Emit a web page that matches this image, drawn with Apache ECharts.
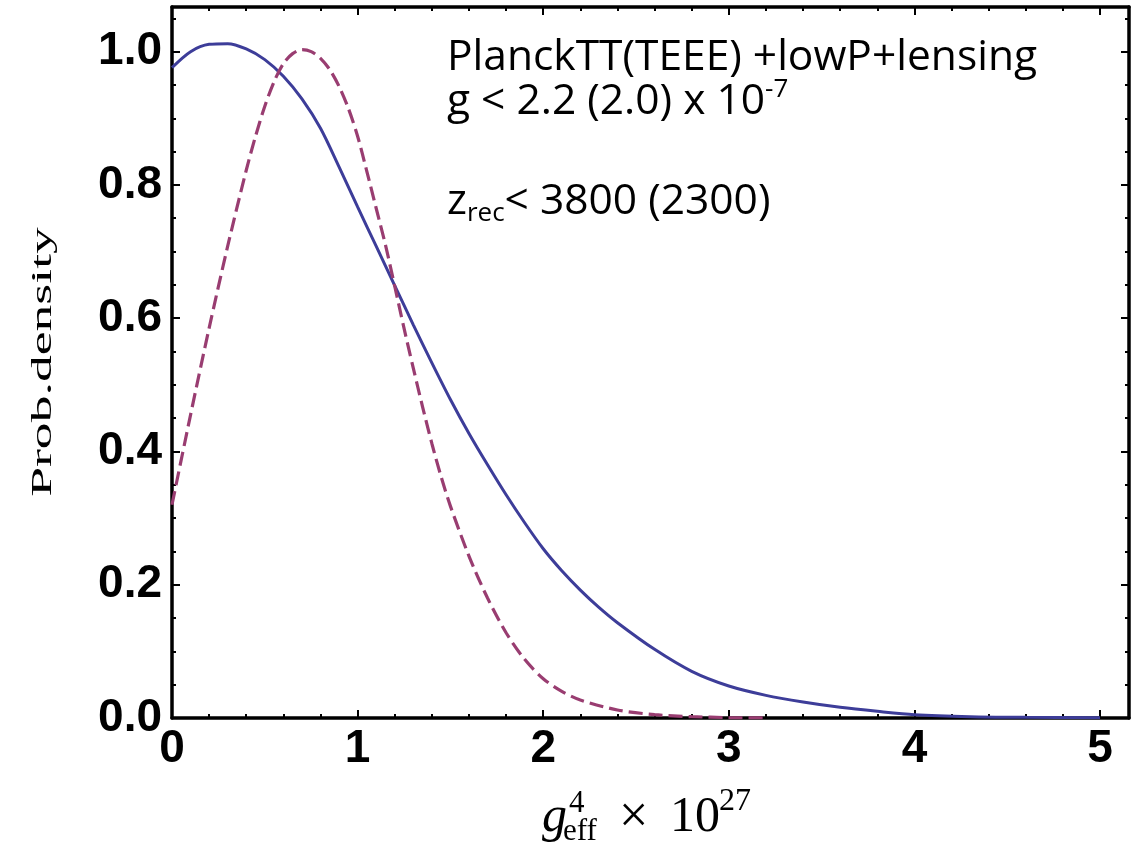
<!DOCTYPE html>
<html>
<head>
<meta charset="utf-8">
<script src="https://cdn.jsdelivr.net/npm/echarts@6/dist/echarts.min.js"></script>
<style>html,body{margin:0;padding:0;background:#fff;}#c{width:1141px;height:850px;}</style>
</head>
<body>
<div id="c"></div>
<script>
// ---- data ----
const xTickLabels = ['0', '1', '2', '3', '4', '5'];
const yTickLabels = ['0.0', '0.2', '0.4', '0.6', '0.8', '1.0'];

const xSolid = [0, 0.1, 0.2, 0.3, 0.4, 0.5, 0.6, 0.7, 0.8, 0.9, 1.0, 1.1, 1.2, 1.3, 1.4, 1.5, 1.6, 1.7, 1.8, 1.9, 2.0, 2.1, 2.2, 2.3, 2.4, 2.6, 2.8, 3.0, 3.2, 3.4, 3.6, 3.8, 4.0, 4.3, 4.6, 5.0];
const ySolid = [0.976, 1.0, 1.011, 1.012, 1.004, 0.988, 0.963, 0.929, 0.885, 0.827, 0.767, 0.708, 0.649, 0.590, 0.533, 0.478, 0.427, 0.380, 0.335, 0.293, 0.254, 0.221, 0.192, 0.166, 0.143, 0.103, 0.070, 0.048, 0.034, 0.024, 0.016, 0.010, 0.005, 0.002, 0.001, 0.0004];

const xDashed = [0, 0.1, 0.2, 0.3, 0.4, 0.45, 0.5, 0.55, 0.6, 0.65, 0.7, 0.75, 0.8, 0.85, 0.9, 0.95, 1.0, 1.05, 1.1, 1.15, 1.2, 1.25, 1.3, 1.35, 1.4, 1.45, 1.5, 1.6, 1.7, 1.8, 1.9, 2.0, 2.1, 2.2, 2.4, 2.6, 2.8, 3.0, 3.2];
const yDashed = [0.32, 0.455, 0.585, 0.708, 0.822, 0.873, 0.918, 0.955, 0.982, 0.997, 1.003, 1.0, 0.99, 0.973, 0.948, 0.915, 0.873, 0.82, 0.765, 0.71, 0.648, 0.585, 0.525, 0.467, 0.412, 0.362, 0.318, 0.243, 0.18, 0.128, 0.088, 0.059, 0.04, 0.027, 0.012, 0.005, 0.002, 0.0006, 0.0];

// ---- build ----
const solidData = xSolid.map((x, i) => [x, ySolid[i]]);
const dashedData = xDashed.map((x, i) => [x, yDashed[i]]);

const X_MAX = 5.156, Y_MAX = 1.067;
const tickFont = {fontFamily: 'Liberation Sans', fontWeight: 'bold', fontSize: 46, color: '#000'};
const lineStyle = {color: '#000', width: 3.5};

function isMultiple(v, step) { const r = v / step; return Math.abs(r - Math.round(r)) < 1e-6; }

function xAx(pos, interval, tickLen, showLine, showLabel) {
  return {
    type: 'value', position: pos, min: 0, max: X_MAX, interval: interval,
    axisLine: {show: showLine, onZero: false, lineStyle: lineStyle},
    axisTick: {show: true, inside: true, length: tickLen, lineStyle: {color: '#000', width: 2}},
    axisLabel: showLabel ? Object.assign({margin: 8, formatter: v => isMultiple(v, 1) && v <= 5 ? xTickLabels[Math.round(v)] : ''}, tickFont) : {show: false},
    splitLine: {show: false}
  };
}
function yAx(pos, interval, tickLen, showLine, showLabel) {
  return {
    type: 'value', position: pos, min: 0, max: Y_MAX, interval: interval,
    axisLine: {show: showLine, onZero: false, lineStyle: lineStyle},
    axisTick: {show: true, inside: true, length: tickLen, lineStyle: {color: '#000', width: 2}},
    axisLabel: showLabel ? Object.assign({margin: 10, formatter: v => isMultiple(v, 0.2) && v <= 1.0001 ? yTickLabels[Math.round(v / 0.2)] : ''}, tickFont) : {show: false},
    splitLine: {show: false}
  };
}

const chart = echarts.init(document.getElementById('c'));
chart.setOption({
  backgroundColor: '#fff',
  animation: false,
  grid: {left: 172, right: 12, top: 7, bottom: 132, containLabel: false},
  xAxis: [
    xAx('bottom', 1, 8, true, true),
    xAx('bottom', 0.2, 4, false, false),
    xAx('top', 1, 8, true, false),
    xAx('top', 0.2, 4, false, false)
  ],
  yAxis: [
    yAx('left', 0.2, 8, true, true),
    yAx('left', 0.05, 4, false, false),
    yAx('right', 0.2, 8, true, false),
    yAx('right', 0.05, 4, false, false)
  ],
  series: [
    {type: 'line', xAxisIndex: 0, yAxisIndex: 0, data: solidData, showSymbol: false, smooth: 0.3,
     lineStyle: {color: '#3d3d99', width: 3}},
    {type: 'line', xAxisIndex: 0, yAxisIndex: 0, data: dashedData, showSymbol: false, smooth: 0.3,
     lineStyle: {color: '#993d71', width: 3.2, type: [14, 6]}}
  ],
  graphic: [
    {type: 'text', x: 447, y: 58, style: {text: 'PlanckTT(TEEE) +lowP+lensing', fontFamily: 'Open Sans', fontSize: 42.5, fill: '#000', align: 'left', verticalAlign: 'middle'}},
    {type: 'text', x: 447, y: 102, style: {text: '{b|g < 2.2 (2.0) x 10}{sup|-7}', fill: '#000', align: 'left', verticalAlign: 'middle',
      rich: {b: {fontFamily: 'Open Sans', fontSize: 42.5, lineHeight: 50, verticalAlign: 'middle', fill: '#000'},
             sup: {fontFamily: 'Open Sans', fontSize: 26, lineHeight: 25, verticalAlign: 'top', fill: '#000'}}}},
    {type: 'text', x: 447, y: 202, style: {text: '{b|z}{sub|rec}{b|< 3800 (2300)}', fill: '#000', align: 'left', verticalAlign: 'middle',
      rich: {b: {fontFamily: 'Open Sans', fontSize: 42.5, lineHeight: 50, verticalAlign: 'middle', fill: '#000'},
             sub: {fontFamily: 'Open Sans', fontSize: 26, lineHeight: 25, verticalAlign: 'bottom', fill: '#000'}}}},
    // y axis title
    {type: 'text', x: 43, y: 362, rotation: Math.PI / 2, scaleX: 1.85,
     style: {text: 'Prob.density', fontFamily: 'Liberation Serif', fontSize: 29, fill: '#000', align: 'center', verticalAlign: 'middle'}},
    // x axis title: g_eff^4 x 10^27
    {type: 'text', x: 542, y: 818, style: {text: 'g', fontFamily: 'Liberation Serif', fontStyle: 'italic', fontSize: 50, fill: '#000', align: 'left', verticalAlign: 'middle'}},
    {type: 'text', x: 569, y: 804, style: {text: '4', fontFamily: 'Liberation Serif', fontSize: 31, fill: '#000', align: 'left', verticalAlign: 'middle'}},
    {type: 'text', x: 563, y: 832, style: {text: 'eff', fontFamily: 'Liberation Serif', fontSize: 31, fill: '#000', align: 'left', verticalAlign: 'middle'}},
    {type: 'text', x: 619, y: 818, style: {text: '×', fontFamily: 'Liberation Serif', fontSize: 52, fill: '#000', align: 'left', verticalAlign: 'middle'}},
    {type: 'text', x: 670, y: 818, style: {text: '10', fontFamily: 'Liberation Serif', fontSize: 50, fill: '#000', align: 'left', verticalAlign: 'middle'}},
    {type: 'text', x: 719, y: 802, style: {text: '27', fontFamily: 'Liberation Serif', fontSize: 32, fill: '#000', align: 'left', verticalAlign: 'middle'}}
  ]
});
</script>
</body>
</html>
